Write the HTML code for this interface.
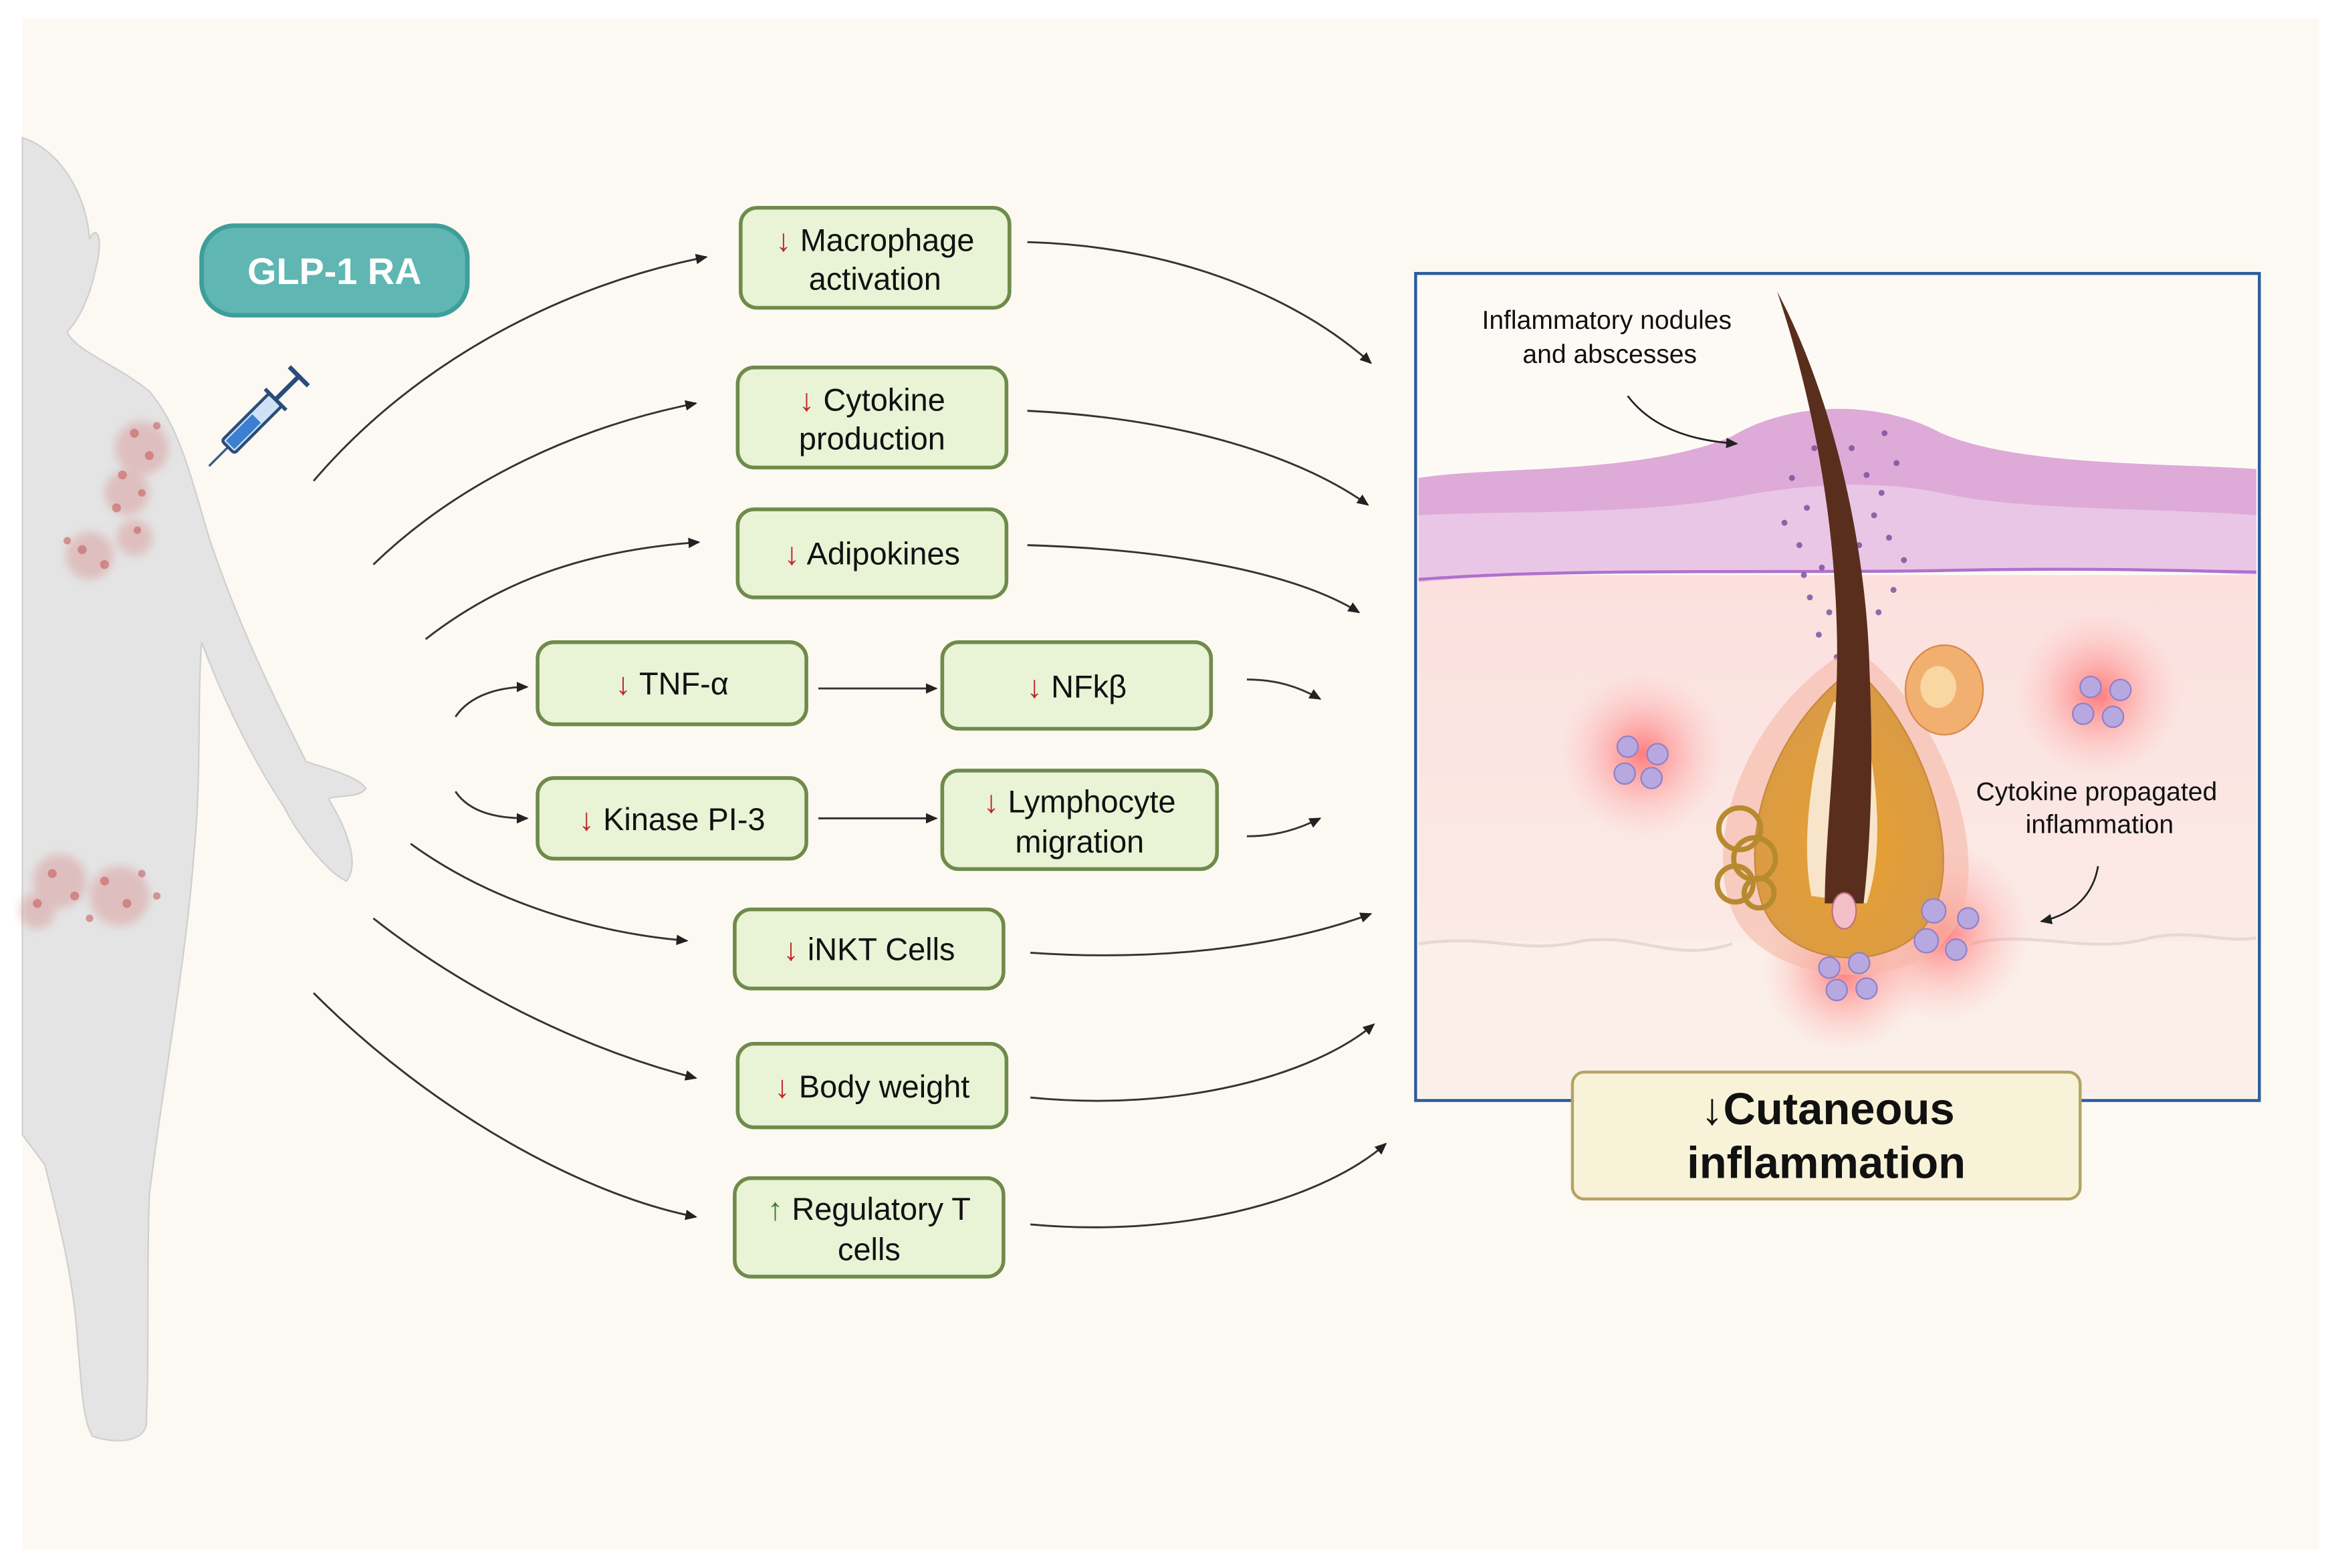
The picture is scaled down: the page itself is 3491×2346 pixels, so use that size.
<!DOCTYPE html>
<html><head><meta charset="utf-8"><style>
html,body{margin:0;padding:0;background:#fff}
svg{display:block}
text{font-family:"Liberation Sans",sans-serif}
</style></head><body>
<svg width="3491" height="2346" viewBox="0 0 1563 1050" xmlns="http://www.w3.org/2000/svg">
<defs>
<marker id="ah" markerWidth="8" markerHeight="8" refX="7" refY="4" orient="auto" markerUnits="userSpaceOnUse"><path d="M0,0.5 L8,4 L0,7.5 Z" fill="#222"/></marker>
<radialGradient id="glow"><stop offset="0" stop-color="#ff5a5a" stop-opacity="0.75"/><stop offset="0.5" stop-color="#ff8080" stop-opacity="0.35"/><stop offset="1" stop-color="#ffb0b0" stop-opacity="0"/></radialGradient>
<linearGradient id="derm" x1="0" y1="0" x2="0" y2="1"><stop offset="0" stop-color="#fbe0de"/><stop offset="1" stop-color="#fbeee9"/></linearGradient>
<radialGradient id="bulb" cx="0.5" cy="0.6" r="0.6"><stop offset="0" stop-color="#e8a030"/><stop offset="1" stop-color="#d89a48"/></radialGradient>
<filter id="blur"><feGaussianBlur stdDeviation="3"/></filter>
</defs>
<rect width="1563" height="1050" fill="#fff"/>
<rect x="15" y="12" width="1538" height="1026" fill="#fcf9f2"/>

<!-- body figure -->
<g fill="#e4e4e4" stroke="#cfcfcf" stroke-width="1">
<path d="M15,92 C40,100 58,130 60,160 C64,150 70,158 64,180 C60,200 52,215 45,222 C50,235 80,245 100,262 C120,285 128,320 140,360 C160,420 185,470 205,510 C220,515 240,520 245,528 C240,535 225,532 220,535 C235,560 240,580 232,590 C220,585 200,560 190,540 C170,510 150,470 135,430 C132,470 135,520 130,570 C125,640 110,720 100,800 C98,860 100,910 98,950 C100,965 80,968 62,962 C55,950 55,930 52,900 C50,860 40,820 30,780 L15,760 Z"/>
</g>
<g fill="#d47a7a" opacity="0.35" filter="url(#blur)">
<circle cx="95" cy="300" r="18"/><circle cx="85" cy="330" r="15"/><circle cx="60" cy="372" r="16"/><circle cx="90" cy="360" r="12"/>
<circle cx="40" cy="590" r="18"/><circle cx="80" cy="600" r="20"/><circle cx="25" cy="610" r="12"/>
</g>
<g fill="#c86060" opacity="0.6">
<circle cx="90" cy="290" r="3"/><circle cx="100" cy="305" r="3"/><circle cx="82" cy="318" r="3"/><circle cx="95" cy="330" r="2.5"/><circle cx="78" cy="340" r="3"/><circle cx="105" cy="285" r="2.5"/><circle cx="55" cy="368" r="3"/><circle cx="70" cy="378" r="3"/><circle cx="45" cy="362" r="2.5"/><circle cx="92" cy="355" r="2.5"/>
<circle cx="35" cy="585" r="3"/><circle cx="50" cy="600" r="3"/><circle cx="70" cy="590" r="3"/><circle cx="85" cy="605" r="3"/><circle cx="95" cy="585" r="2.5"/><circle cx="25" cy="605" r="3"/><circle cx="60" cy="615" r="2.5"/><circle cx="105" cy="600" r="2.5"/>
</g>

<!-- GLP-1 RA -->
<rect x="135" y="151" width="178" height="60" rx="22" fill="#5fb6b2" stroke="#3e9e9a" stroke-width="3"/>
<text x="224" y="190" font-size="25" font-weight="bold" fill="#fff" text-anchor="middle">GLP-1 RA</text>
<!-- syringe -->
<g transform="translate(140,312) rotate(-45)">
<line x1="0" y1="0" x2="18" y2="0" stroke="#3a5c8a" stroke-width="1.5"/>
<rect x="18" y="-6" width="45" height="12" rx="2" fill="#cfe2f5" stroke="#2a4c7a" stroke-width="2"/>
<rect x="20" y="-4" width="25" height="8" fill="#3a7fd0"/>
<line x1="63" y1="0" x2="85" y2="0" stroke="#2a4c7a" stroke-width="3"/>
<line x1="63" y1="-10" x2="63" y2="10" stroke="#2a4c7a" stroke-width="2.5"/>
<line x1="85" y1="-9" x2="85" y2="9" stroke="#2a4c7a" stroke-width="3"/>
</g>

<!-- connectors -->
<g fill="none" stroke="#333" stroke-width="1.3" marker-end="url(#ah)">
<path d="M210,322 C280,240 380,190 473,172"/>
<path d="M250,378 C310,320 390,285 466,270"/>
<path d="M285,428 C340,385 400,368 468,363"/>
<path d="M305,480 C315,465 335,460 353,460"/>
<path d="M305,530 C315,545 335,548 353,548"/>
<path d="M275,565 C330,605 400,625 460,630"/>
<path d="M250,615 C320,670 400,705 466,722"/>
<path d="M210,665 C290,745 390,800 466,815"/>
<path d="M688,162 C790,165 870,200 918,243"/>
<path d="M688,275 C790,280 870,305 916,338"/>
<path d="M688,365 C790,368 870,385 910,410"/>
<path d="M835,455 C855,455 870,460 884,468"/>
<path d="M835,560 C855,560 870,555 884,548"/>
<path d="M690,638 C790,645 870,630 918,612"/>
<path d="M690,735 C790,745 880,720 920,686"/>
<path d="M690,820 C800,830 890,800 928,766"/>
<path d="M548,461 L627,461"/>
<path d="M548,548 L627,548"/>
</g>

<!-- green boxes -->
<g fill="#e9f3d6" stroke="#6f8b4b" stroke-width="2.5">
<rect x="496" y="139" width="180" height="67" rx="11"/>
<rect x="494" y="246" width="180" height="67" rx="11"/>
<rect x="494" y="341" width="180" height="59" rx="11"/>
<rect x="360" y="430" width="180" height="55" rx="11"/>
<rect x="631" y="430" width="180" height="58" rx="11"/>
<rect x="360" y="521" width="180" height="54" rx="11"/>
<rect x="631" y="516" width="184" height="66" rx="11"/>
<rect x="492" y="609" width="180" height="53" rx="11"/>
<rect x="494" y="699" width="180" height="56" rx="11"/>
<rect x="492" y="789" width="180" height="66" rx="11"/>
</g>
<g font-size="21" fill="#111" text-anchor="middle">
<text x="586" y="168"><tspan fill="#c0282a" font-weight="bold">↓</tspan> Macrophage</text>
<text x="586" y="194">activation</text>
<text x="584" y="275"><tspan fill="#c0282a" font-weight="bold">↓</tspan> Cytokine</text>
<text x="584" y="301">production</text>
<text x="584" y="378"><tspan fill="#c0282a" font-weight="bold">↓</tspan> Adipokines</text>
<text x="450" y="465"><tspan fill="#c0282a" font-weight="bold">↓</tspan> TNF-α</text>
<text x="721" y="467"><tspan fill="#c0282a" font-weight="bold">↓</tspan> NFkβ</text>
<text x="450" y="556"><tspan fill="#c0282a" font-weight="bold">↓</tspan> Kinase PI-3</text>
<text x="723" y="544"><tspan fill="#c0282a" font-weight="bold">↓</tspan> Lymphocyte</text>
<text x="723" y="571">migration</text>
<text x="582" y="643"><tspan fill="#c0282a" font-weight="bold">↓</tspan> iNKT Cells</text>
<text x="584" y="735"><tspan fill="#c0282a" font-weight="bold">↓</tspan> Body weight</text>
<text x="582" y="817"><tspan fill="#3a7a3a" font-weight="bold">↑</tspan> Regulatory T</text>
<text x="582" y="844">cells</text>
</g>

<!-- skin panel -->
<rect x="948" y="183" width="565" height="554" fill="#fdfaf6"/>
<g>
<rect x="950" y="385" width="561" height="350" fill="url(#derm)"/>
<rect x="950" y="630" width="561" height="105" fill="#fbefe9"/>
<path d="M950,320 C1000,312 1100,318 1160,292 C1200,268 1260,268 1300,290 C1350,312 1450,310 1511,314 L1511,385 C1450,382 1400,380 1300,382 C1200,384 1050,380 950,390 Z" fill="#e9c6e6"/>
<path d="M950,320 C1000,312 1100,318 1160,292 C1200,268 1260,268 1300,290 C1350,312 1450,310 1511,314 L1511,345 C1450,340 1350,342 1300,330 C1250,320 1200,325 1150,335 C1080,345 1000,342 950,345 Z" fill="#deaad8"/>
<path d="M950,388 C1050,380 1200,384 1300,382 C1400,380 1450,382 1511,383" fill="none" stroke="#b070cc" stroke-width="2"/>
<path d="M950,632 C1000,625 1020,640 1060,630 C1100,625 1120,645 1160,632 M1320,632 C1360,622 1400,640 1440,628 C1470,622 1490,632 1511,628" fill="none" stroke="#e8d8d4" stroke-width="2"/>
</g>
<circle cx="1100" cy="505" r="55" fill="url(#glow)"/>
<circle cx="1405" cy="465" r="55" fill="url(#glow)"/>
<circle cx="1300" cy="625" r="60" fill="url(#glow)"/>
<circle cx="1235" cy="650" r="55" fill="url(#glow)"/>
<!-- dots -->
<g fill="#7a4a9a" opacity="0.8">
<circle cx="1215" cy="300" r="2"/><circle cx="1225" cy="320" r="2"/><circle cx="1210" cy="340" r="2"/><circle cx="1230" cy="350" r="2"/><circle cx="1205" cy="365" r="2"/><circle cx="1220" cy="380" r="2"/><circle cx="1260" cy="330" r="2"/><circle cx="1265" cy="360" r="2"/><circle cx="1212" cy="400" r="2"/><circle cx="1225" cy="410" r="2"/><circle cx="1268" cy="395" r="2"/><circle cx="1218" cy="425" r="2"/><circle cx="1200" cy="320" r="2"/><circle cx="1270" cy="310" r="2"/><circle cx="1195" cy="350" r="2"/><circle cx="1275" cy="375" r="2"/>
<circle cx="1240" cy="300" r="2"/><circle cx="1250" cy="318" r="2"/><circle cx="1235" cy="335" r="2"/><circle cx="1255" cy="345" r="2"/><circle cx="1245" cy="365" r="2"/><circle cx="1208" cy="385" r="2"/><circle cx="1258" cy="410" r="2"/><circle cx="1230" cy="440" r="2"/><circle cx="1222" cy="290" r="2"/><circle cx="1262" cy="290" r="2"/>
</g>
<!-- follicle -->
<path d="M1230,440 C1170,480 1140,560 1160,610 C1180,660 1280,670 1310,620 C1335,570 1300,480 1250,440 Z" fill="#f6b8a6" opacity="0.6"/>
<path d="M1232,455 C1185,495 1165,560 1180,605 C1195,650 1275,655 1295,610 C1315,565 1285,490 1250,455 Z" fill="url(#bulb)" stroke="#c8883a" stroke-width="1"/>
<path d="M1213,600 C1205,560 1215,500 1228,470 L1245,470 C1258,520 1262,570 1250,605 Z" fill="#f8e4c8"/>
<ellipse cx="1302" cy="462" rx="26" ry="30" fill="#f2b070" stroke="#d8884a"/>
<ellipse cx="1298" cy="460" rx="12" ry="14" fill="#f8d8a0"/>
<g fill="none" stroke="#b88a30" stroke-width="3.5"><circle cx="1165" cy="555" r="14"/><circle cx="1175" cy="575" r="14"/><circle cx="1162" cy="592" r="12"/><circle cx="1178" cy="598" r="10"/></g>
<path d="M1190,195 C1225,260 1250,360 1252,450 C1255,520 1252,570 1248,605 L1222,605 C1222,560 1232,480 1230,420 C1228,340 1212,260 1190,195 Z" fill="#5a2e1c"/>
<ellipse cx="1235" cy="610" rx="8" ry="12" fill="#f4c0c8" stroke="#c07080"/>
<!-- cells -->
<g fill="#b8a8e0" stroke="#9080c8" stroke-width="1">
<circle cx="1090" cy="500" r="7"/><circle cx="1110" cy="505" r="7"/><circle cx="1088" cy="518" r="7"/><circle cx="1106" cy="521" r="7"/>
<circle cx="1400" cy="460" r="7"/><circle cx="1420" cy="462" r="7"/><circle cx="1395" cy="478" r="7"/><circle cx="1415" cy="480" r="7"/>
<circle cx="1295" cy="610" r="8"/><circle cx="1318" cy="615" r="7"/><circle cx="1290" cy="630" r="8"/><circle cx="1310" cy="636" r="7"/>
<circle cx="1225" cy="648" r="7"/><circle cx="1245" cy="645" r="7"/><circle cx="1230" cy="663" r="7"/><circle cx="1250" cy="662" r="7"/>
</g>
<g font-size="17.5" fill="#111" text-anchor="middle">
<text x="1076" y="220">Inflammatory nodules</text>
<text x="1078" y="243">and abscesses</text>
<text x="1404" y="536">Cytokine propagated</text>
<text x="1406" y="558">inflammation</text>
</g>
<g fill="none" stroke="#222" stroke-width="1.2" marker-end="url(#ah)">
<path d="M1090,265 C1105,285 1130,295 1163,297"/>
<path d="M1405,580 C1402,598 1390,612 1367,617"/>
</g>
<rect x="948" y="183" width="565" height="554" fill="none" stroke="#2c5c9c" stroke-width="2"/>
<rect x="1053" y="718" width="340" height="85" rx="8" fill="#f8f3d8" stroke="#b3a466" stroke-width="2"/>
<text x="1224" y="753" font-size="30" font-weight="bold" fill="#111" text-anchor="middle">↓Cutaneous</text>
<text x="1223" y="789" font-size="30" font-weight="bold" fill="#111" text-anchor="middle">inflammation</text>
</svg>
</body></html>
